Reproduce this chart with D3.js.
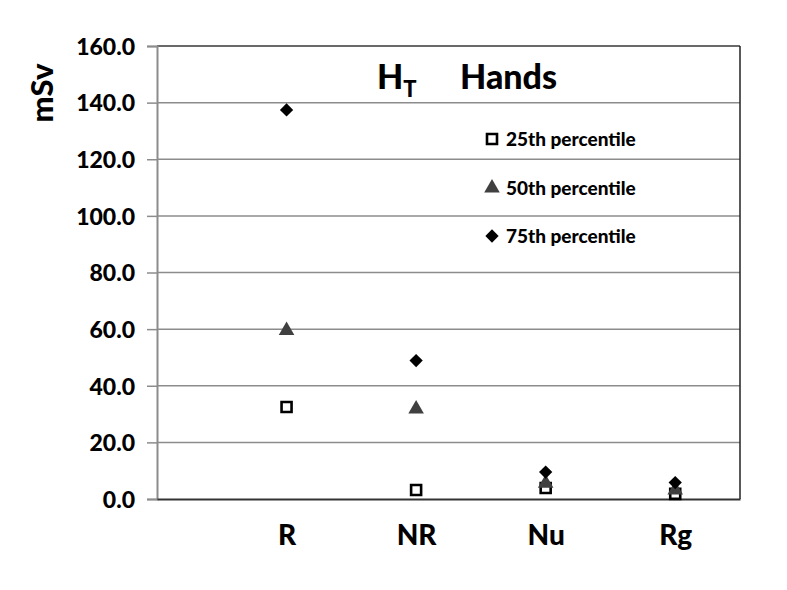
<!DOCTYPE html>
<html>
<head>
<meta charset="utf-8">
<script src="https://cdn.jsdelivr.net/npm/d3@7"></script>
<style>
  body { margin: 0; background: #fff; }
  text { font-family: Lato, "Open Sans", sans-serif; font-weight: 900; fill: #000; }
</style>
</head>
<body>
<div id="chart"></div>
<script>
const categories = ['R', 'NR', 'Nu', 'Rg'];
const p25 = [32.5, 3.2, 3.9, 1.8];
const p50 = [59.5, 31.8, 5.6, 3.2];
const p75 = [137.4, 48.9, 9.5, 5.8];
const yTicks = [0, 20, 40, 60, 80, 100, 120, 140, 160];
const seriesNames = ['25th percentile', '50th percentile', '75th percentile'];

const w = 787, h = 590;
const plotLeft = 157, plotRight = 740, plotTop = 46, plotBottom = 499;

const svg = d3.select('#chart').append('svg')
  .attr('width', w).attr('height', h);

const xScale = d3.scaleLinear().domain([0, 4.5]).range([plotLeft, plotRight]);
const yScale = d3.scaleLinear().domain([0, 160]).range([plotBottom, plotTop]);

// gridlines
svg.append('g').selectAll('line')
  .data(yTicks.slice(1))
  .enter().append('line')
  .attr('x1', plotLeft).attr('x2', plotRight)
  .attr('y1', d => yScale(d)).attr('y2', d => yScale(d))
  .attr('stroke', '#8c8c8c').attr('stroke-width', 1.5);

// plot frame top/right
svg.append('line').attr('x1', plotLeft).attr('x2', plotRight).attr('y1', plotTop).attr('y2', plotTop)
  .attr('stroke', '#555').attr('stroke-width', 1.5);
svg.append('line').attr('x1', plotRight).attr('x2', plotRight).attr('y1', plotTop).attr('y2', plotBottom)
  .attr('stroke', '#222').attr('stroke-width', 1.5);

// y axis
const yAxis = d3.axisLeft(yScale).tickValues(yTicks).tickFormat(d3.format('.1f'))
  .tickSize(10).tickPadding(12);
const gy = svg.append('g').attr('transform', 'translate(' + plotLeft + ',0)').call(yAxis);
gy.select('.domain').attr('stroke', '#8c8c8c').attr('stroke-width', 2);
gy.selectAll('.tick line').attr('stroke', '#8c8c8c').attr('stroke-width', 1.5);
gy.selectAll('.tick text').style('font-size', '23px').attr('dy', '0.36em');

// x axis (labels only)
const xAxis = d3.axisBottom(xScale).tickValues([1, 2, 3, 4])
  .tickFormat((d, i) => categories[i]).tickSize(0).tickPadding(26);
const gx = svg.append('g').attr('transform', 'translate(0,' + plotBottom + ')').call(xAxis);
gx.select('.domain').attr('stroke', '#333').attr('stroke-width', 2);
gx.selectAll('.tick text').style('font-size', '28px');

// y title
svg.append('text')
  .attr('transform', 'translate(53,93) rotate(-90)')
  .attr('text-anchor', 'middle')
  .style('font-size', '31px')
  .text('mSv');

// chart title
const title = svg.append('text').attr('x', 377).attr('y', 89).style('font-size', '34px');
title.append('tspan').text('H');
title.append('tspan').attr('dy', 8).style('font-size', '22px').text('T');
svg.append('text').attr('x', 460).attr('y', 89).style('font-size', '34px').text('Hands');

// markers
const squareSym = d3.symbol().type(d3.symbolSquare).size(100);
const triSym = d3.symbol().type(d3.symbolTriangle).size(105);
const diaSym = d3.symbol().type(d3.symbolSquare).size(88);

const styles = [
  { sym: squareSym, fill: '#fff', stroke: '#000', sw: 2.6, rot: 0, data: p25 },
  { sym: triSym, fill: '#404040', stroke: 'none', sw: 0, rot: 0, data: p50 },
  { sym: diaSym, fill: '#000', stroke: 'none', sw: 0, rot: 45, data: p75 }
];

styles.forEach(s => {
  svg.append('g').selectAll('path')
    .data(s.data)
    .enter().append('path')
    .attr('d', s.sym)
    .attr('transform', (d, i) => 'translate(' + xScale(i + 1) + ',' + yScale(d) + ') rotate(' + s.rot + ')')
    .attr('fill', s.fill).attr('stroke', s.stroke).attr('stroke-width', s.sw);
});

// legend
const legendY = [139, 188, 236];
styles.forEach((s, i) => {
  const g = svg.append('g').attr('transform', 'translate(492,' + legendY[i] + ')');
  g.append('path').attr('d', s.sym).attr('transform', 'rotate(' + s.rot + ')')
    .attr('fill', s.fill).attr('stroke', s.stroke).attr('stroke-width', s.sw);
  g.append('text').attr('x', 14).attr('dy', '0.36em').style('font-size', '19px').text(seriesNames[i]);
});
</script>
</body>
</html>
